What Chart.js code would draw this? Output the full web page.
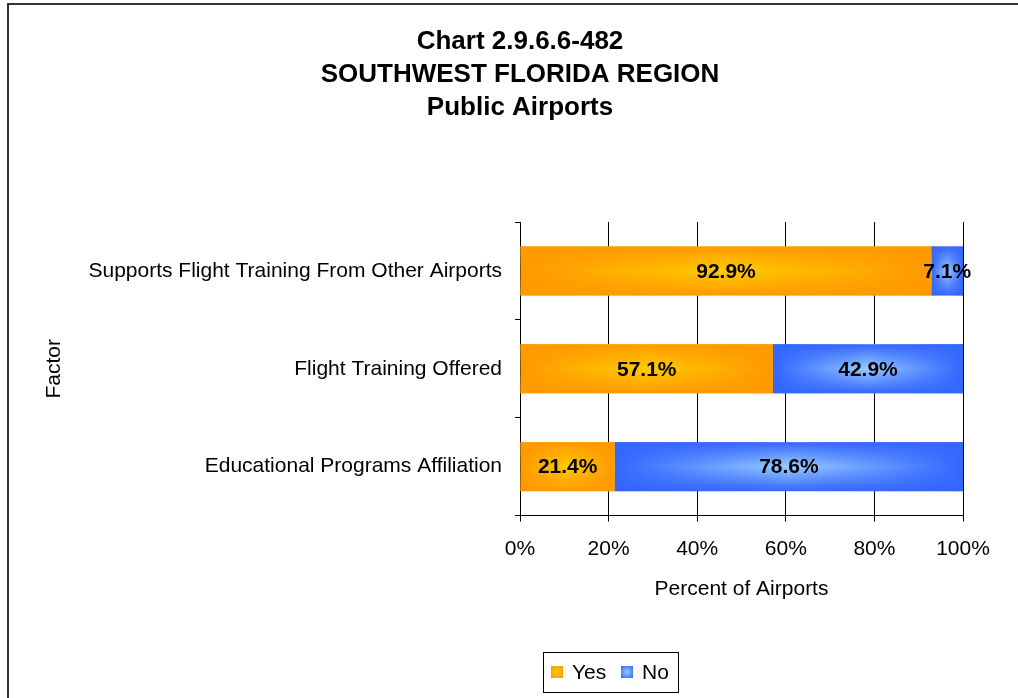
<!DOCTYPE html>
<html><head><meta charset="utf-8">
<script src="https://cdn.jsdelivr.net/npm/chart.js@4.4.1/dist/chart.umd.min.js"></script>
<style>
html,body{margin:0;padding:0;background:#fff;overflow:hidden;width:1018px;height:698px}
#frame{position:absolute;left:7px;top:3px;width:1100px;height:800px;border-left:2px solid #333;border-top:2px solid #333}
#wrap{position:absolute;left:0;top:0;width:1018px;height:698px}
</style></head><body>
<div id="frame"></div>
<div id="wrap"><canvas id="c" width="1018" height="698"></canvas></div>
<script>
// ---- data ----
const titleLines = ['Chart 2.9.6.6-482', 'SOUTHWEST FLORIDA REGION', 'Public Airports'];
const categories = ['Supports Flight Training From Other Airports', 'Flight Training Offered', 'Educational Programs Affiliation'];
const seriesNames = ['Yes', 'No'];
const yesValues = [92.9, 57.1, 21.4];
const noValues = [7.1, 42.9, 78.6];
const xTickValues = [0, 20, 40, 60, 80, 100];
const xAxisTitle = 'Percent of Airports';
const yAxisTitle = 'Factor';

// ---- styles ----
const FAMILY = '"Liberation Sans", Arial, sans-serif';
const edgeRGB = [[255, 153, 0], [51, 102, 255]];
const centerRGB = [[255, 204, 0], [153, 204, 255]];
const rgba = (c, a) => `rgba(${c[0]},${c[1]},${c[2]},${a})`;

function barGradient(di) {
  return (ctx) => {
    const chart = ctx.chart;
    const edge = rgba(edgeRGB[di], 1), center = rgba(centerRGB[di], 1);
    if (!chart.chartArea || ctx.type !== 'data') return edge;
    const xs = chart.scales.x;
    const i = ctx.dataIndex;
    const start = di === 0 ? 0 : yesValues[i];
    const end = di === 0 ? yesValues[i] : yesValues[i] + noValues[i];
    const x0 = xs.getPixelForValue(start), x1 = xs.getPixelForValue(end);
    const g = chart.ctx.createLinearGradient(x0, 0, x1, 0);
    g.addColorStop(0, edge);
    g.addColorStop(0.5, center);
    g.addColorStop(1, edge);
    return g;
  };
}

const barDecor = {
  id: 'barDecor',
  afterDatasetsDraw(chart) {
    const ctx = chart.ctx;
    const items = [];
    chart.data.datasets.forEach((ds, di) => {
      const meta = chart.getDatasetMeta(di);
      meta.data.forEach((el, i) => {
        const p = el.getProps(['x', 'y', 'base', 'height'], true);
        const left = Math.min(p.x, p.base), w = Math.abs(p.x - p.base), top = p.y - p.height / 2;
        const g = ctx.createLinearGradient(0, top, 0, top + p.height);
        g.addColorStop(0, rgba(edgeRGB[di], 1));
        g.addColorStop(0.5, rgba(edgeRGB[di], 0));
        g.addColorStop(1, rgba(edgeRGB[di], 1));
        ctx.save();
        ctx.fillStyle = g;
        ctx.fillRect(left, top, w, p.height);
        ctx.restore();
        items.push({x: (p.x + p.base) / 2, y: p.y, text: ds.data[i].toFixed(1) + '%'});
      });
    });
    ctx.save();
    ctx.font = 'bold 21px ' + FAMILY;
    ctx.fillStyle = '#000';
    ctx.textAlign = 'center';
    ctx.textBaseline = 'middle';
    items.forEach(t => ctx.fillText(t.text, t.x, t.y + 1));
    ctx.restore();
  }
};

const legendPlugin = {
  id: 'boxLegend',
  afterDraw(chart) {
    const ctx = chart.ctx;
    ctx.save();
    ctx.strokeStyle = '#000';
    ctx.lineWidth = 1;
    ctx.strokeRect(543.5, 652.5, 135, 40);
    ctx.font = '21px ' + FAMILY;
    ctx.fillStyle = '#000';
    ctx.textBaseline = 'middle';
    const pos = [551, 621];
    chart.data.datasets.forEach((ds, di) => {
      const x = pos[di], y = 666;
      const g = ctx.createRadialGradient(x + 6, y + 6, 0, x + 6, y + 6, 8);
      g.addColorStop(0, rgba(centerRGB[di], 1));
      g.addColorStop(1, rgba(edgeRGB[di], 1));
      ctx.fillStyle = g;
      ctx.fillRect(x, y, 12, 12);
      ctx.fillStyle = '#000';
      ctx.fillText(ds.label, x + 21, y + 7);
    });
    ctx.restore();
  }
};

new Chart(document.getElementById('c'), {
  type: 'bar',
  data: {
    labels: categories,
    datasets: [
      {label: seriesNames[0], data: yesValues, backgroundColor: barGradient(0), borderWidth: 0, barPercentage: 0.5, categoryPercentage: 1},
      {label: seriesNames[1], data: noValues, backgroundColor: barGradient(1), borderWidth: 0, barPercentage: 0.5, categoryPercentage: 1}
    ]
  },
  options: {
    indexAxis: 'y',
    responsive: false,
    devicePixelRatio: 1,
    animation: false,
    events: [],
    layout: {padding: {left: 22, right: 0, top: 0, bottom: 96}},
    plugins: {
      legend: {display: false},
      tooltip: {enabled: false},
      title: {
        display: true,
        text: titleLines,
        color: '#000',
        font: {family: FAMILY, size: 26, weight: 'bold', lineHeight: 33 / 26},
        padding: {top: 25, bottom: 98}
      }
    },
    scales: {
      x: {
        stacked: true,
        min: 0,
        max: 100,
        afterBuildTicks(s) { s.ticks = xTickValues.map(v => ({value: v})); },
        ticks: {color: '#000', font: {family: FAMILY, size: 21}, padding: 15, maxRotation: 0, callback: v => v + '%'},
        grid: {color: '#000', lineWidth: 1, tickLength: 6},
        border: {color: '#000', width: 1},
        title: {display: true, text: xAxisTitle, color: '#000', font: {family: FAMILY, size: 21}, padding: {top: 0, bottom: 0}},
        afterFit(s) { s.paddingLeft = 0; s.paddingRight = 55; }
      },
      y: {
        stacked: true,
        ticks: {color: '#000', font: {family: FAMILY, size: 21}, padding: 13},
        grid: {display: true, drawOnChartArea: false, color: '#000', tickLength: 5, offset: true},
        border: {color: '#000', width: 1},
        title: {display: true, text: yAxisTitle, color: '#000', font: {family: FAMILY, size: 21}, padding: {top: 20, bottom: 0}},
        afterFit(s) { s.width = 498; s.paddingTop = 0; s.paddingBottom = 0; }
      }
    }
  },
  plugins: [barDecor, legendPlugin]
});
</script>
</body></html>
